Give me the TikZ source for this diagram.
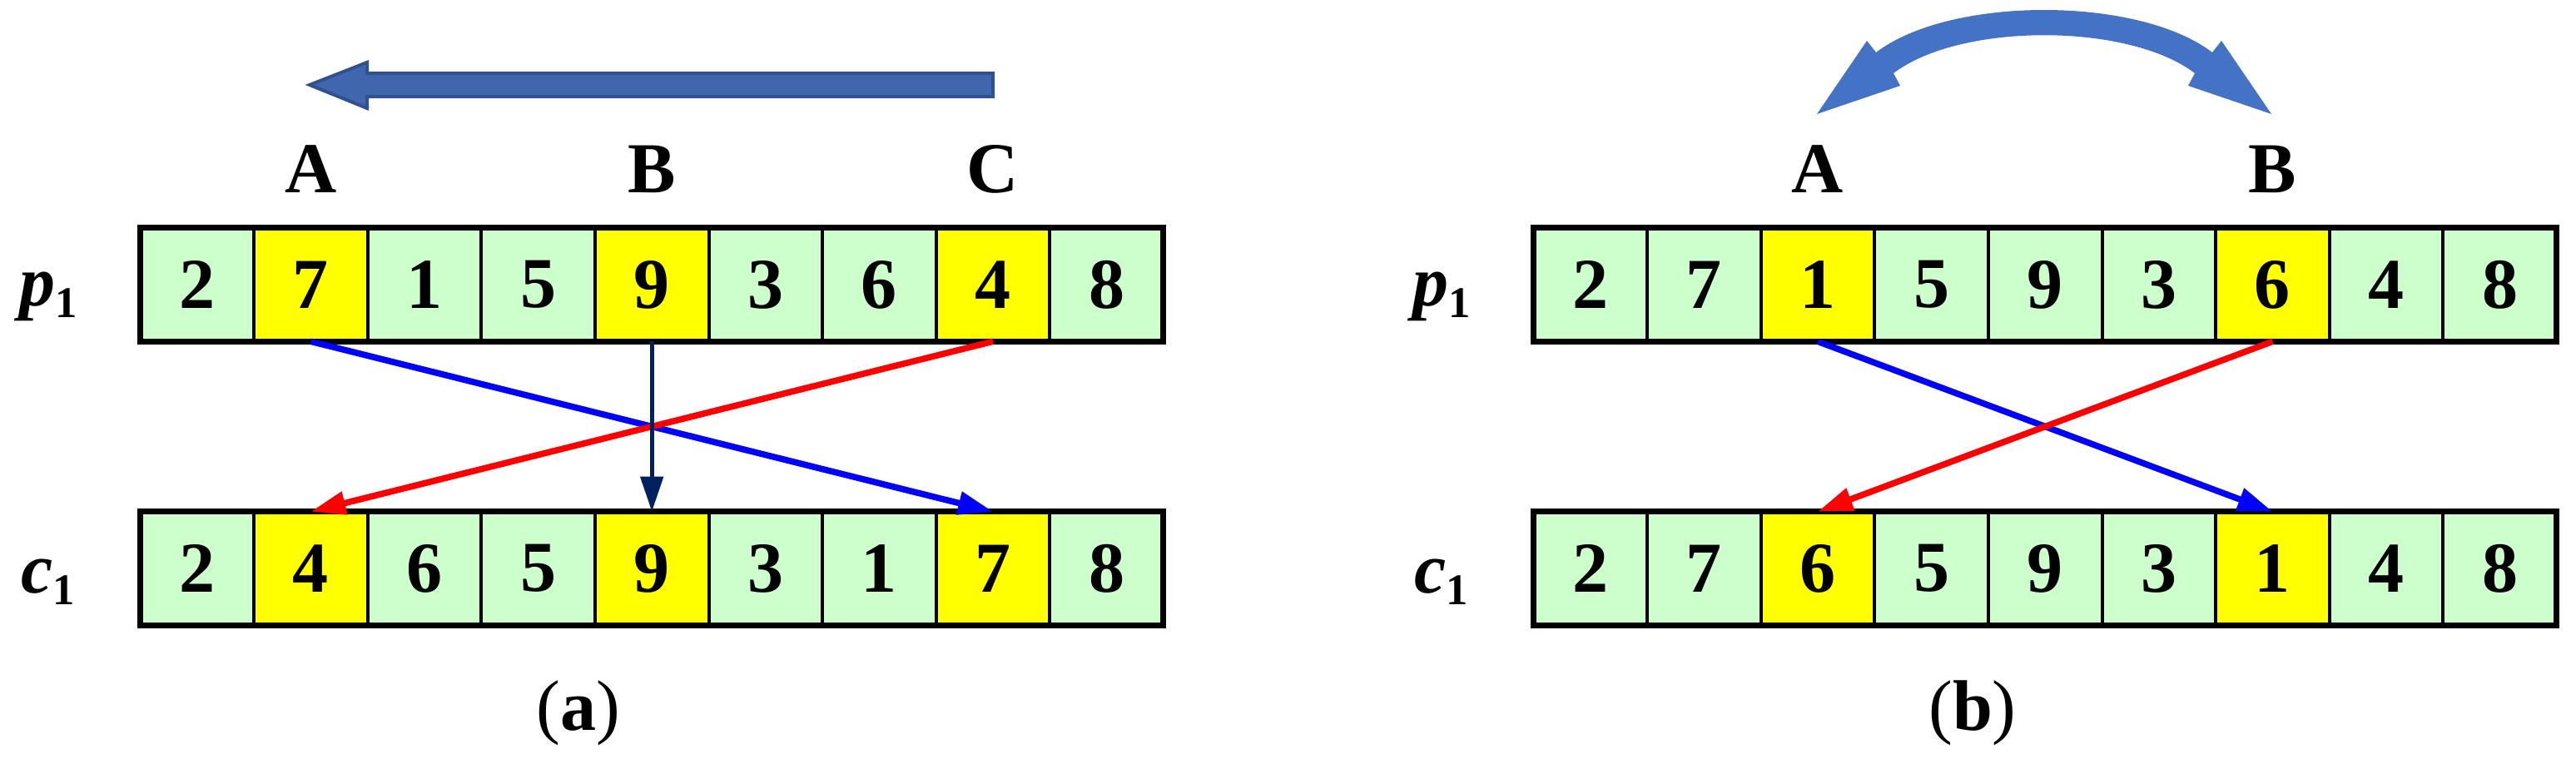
\documentclass[tikz,border=0pt]{standalone}
\usepackage{fontspec}
\setmainfont{Liberation Serif}
\usetikzlibrary{arrows.meta}
\definecolor{cellgreen}{HTML}{CCFFCC}
\definecolor{cellyellow}{HTML}{FFFF00}
\definecolor{shiftblue}{HTML}{4066AE}
\definecolor{shiftedge}{HTML}{2F528F}
\definecolor{swapblue}{HTML}{4472C4}
\definecolor{linknavy}{HTML}{002060}
\def\bigfont{\fontsize{24.5}{29}\selectfont}
\newcommand\rowframe[2]{\draw[line width=0.07cm] (#1.north west) rectangle (#2.south east);}
\newcommand\rowname[1]{\textbf{\textit{#1}}\raisebox{-4pt}{\fontsize{15}{18}\selectfont\bfseries 1}}
\tikzset{
	cell/.style={draw, line width=0.04cm, fill=cellgreen, minimum width=1.366cm, minimum height=1.366cm, inner sep=0pt, outer sep=0pt, font=\bigfont\bfseries},
	hot/.style={cell, fill=cellyellow},
	cut/.style={inner sep=0pt, anchor=base, font=\bigfont\bfseries},
	rowlab/.style={inner sep=0pt, anchor=base, font=\bigfont},
	caption/.style={inner sep=0pt, font=\bigfont},
	link/.style={line width=0.075cm, -{Triangle[length=0.42cm,width=0.27cm]}},
}

\begin{document}
\begin{tikzpicture}
			%%%%% START %%%%%
			\useasboundingbox (0, 0) rectangle (30.95, 9.17);
			
			%%%%% (a) %%%%%
			\draw[fill=shiftblue, draw=shiftedge, line width=0.4mm] (3.72, 8.15) -- (4.41, 8.42) -- (4.41, 8.29) -- (11.93, 8.29) -- (11.93, 8.01) -- (4.41, 8.01) -- (4.41, 7.87) -- cycle;
			
			\node[rowlab] (pa) at (0.58, 5.50) {\rowname{p}};
			\node[cell] (pa1) at (2.368, 5.75) {2};
			\node[hot] (pa2) at (3.734, 5.75) {7};
			\node[cell] (pa3) at (5.100, 5.75) {1};
			\node[cell] (pa4) at (6.466, 5.75) {5};
			\node[hot] (pa5) at (7.832, 5.75) {9};
			\node[cell] (pa6) at (9.198, 5.75) {3};
			\node[cell] (pa7) at (10.564, 5.75) {6};
			\node[hot] (pa8) at (11.930, 5.75) {4};
			\node[cell] (pa9) at (13.296, 5.75) {8};
			\rowframe{pa1}{pa9}
			
			\node[cut] (cutA) at (3.734, 6.86) {A};
			\node[cut] (cutB) at (7.832, 6.86) {B};
			\node[cut] (cutC) at (11.930, 6.86) {C};
			
			\node[rowlab] (ca) at (0.58, 2.05) {\rowname{c}};
			\node[cell] (ca1) at (2.368, 2.34) {2};
			\node[hot] (ca2) at (3.734, 2.34) {4};
			\node[cell] (ca3) at (5.100, 2.34) {6};
			\node[cell] (ca4) at (6.466, 2.34) {5};
			\node[hot] (ca5) at (7.832, 2.34) {9};
			\node[cell] (ca6) at (9.198, 2.34) {3};
			\node[cell] (ca7) at (10.564, 2.34) {1};
			\node[hot] (ca8) at (11.930, 2.34) {7};
			\node[cell] (ca9) at (13.296, 2.34) {8};
			\rowframe{ca1}{ca9}
			
			\draw[link, color=blue] (pa2.south) -- (ca8.north);
			\draw[link, color=red] (pa8.south) -- (ca2.north);
			\draw[link, color=linknavy, line width=0.05cm] (pa5.south) -- (ca5.north);
			
			\node[caption] (capa) at (6.95, 0.60) {(\textbf{a})};
			
			%%%%% (b) %%%%%
			\draw[fill=swapblue, draw=none] (21.83, 7.80) -- (22.43, 8.68) -- (22.54, 8.54) .. controls (23.43, 9.22) and (25.69, 9.22) .. (26.58, 8.54) -- (26.69, 8.68) -- (27.29, 7.80) -- (26.29, 8.14) -- (26.37, 8.29) .. controls (25.57, 8.90) and (23.55, 8.90) .. (22.75, 8.29) -- (22.83, 8.14) -- cycle;
			
			\node[rowlab] (pb) at (17.32, 5.50) {\rowname{p}};
			\node[cell] (pb1) at (19.108, 5.75) {2};
			\node[cell] (pb2) at (20.474, 5.75) {7};
			\node[hot] (pb3) at (21.840, 5.75) {1};
			\node[cell] (pb4) at (23.206, 5.75) {5};
			\node[cell] (pb5) at (24.572, 5.75) {9};
			\node[cell] (pb6) at (25.938, 5.75) {3};
			\node[hot] (pb7) at (27.304, 5.75) {6};
			\node[cell] (pb8) at (28.670, 5.75) {4};
			\node[cell] (pb9) at (30.036, 5.75) {8};
			\rowframe{pb1}{pb9}
			
			\node[cut] (swapA) at (21.840, 6.86) {A};
			\node[cut] (swapB) at (27.304, 6.86) {B};
			
			\node[rowlab] (cb) at (17.32, 2.05) {\rowname{c}};
			\node[cell] (cb1) at (19.108, 2.34) {2};
			\node[cell] (cb2) at (20.474, 2.34) {7};
			\node[hot] (cb3) at (21.840, 2.34) {6};
			\node[cell] (cb4) at (23.206, 2.34) {5};
			\node[cell] (cb5) at (24.572, 2.34) {9};
			\node[cell] (cb6) at (25.938, 2.34) {3};
			\node[hot] (cb7) at (27.304, 2.34) {1};
			\node[cell] (cb8) at (28.670, 2.34) {4};
			\node[cell] (cb9) at (30.036, 2.34) {8};
			\rowframe{cb1}{cb9}
			
			\draw[link, color=blue] (pb3.south) -- (cb7.north);
			\draw[link, color=red] (pb7.south) -- (cb3.north);
			
			\node[caption] (capb) at (23.70, 0.60) {(\textbf{b})};
			
			%%%%% END %%%%%
\end{tikzpicture}
\end{document}
